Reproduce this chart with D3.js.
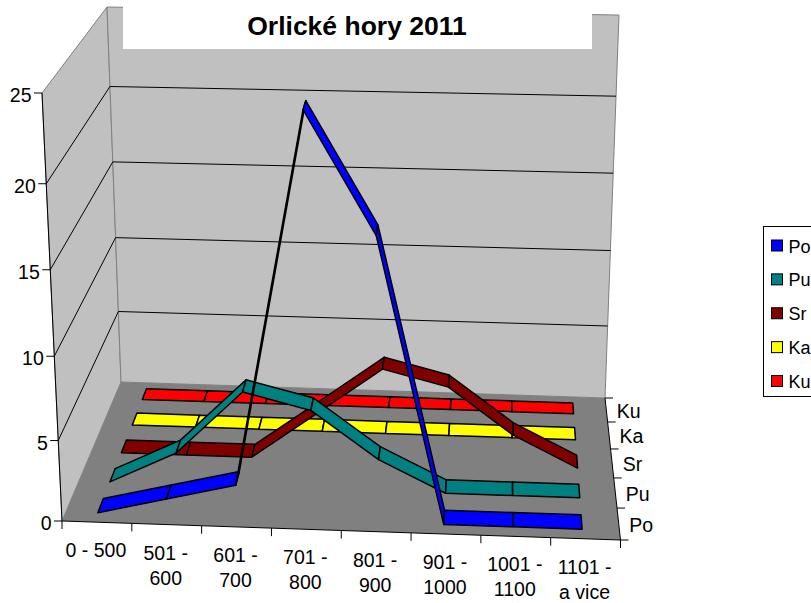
<!DOCTYPE html>
<html>
<head>
<meta charset="utf-8">
<script src="https://cdn.jsdelivr.net/npm/d3@7"></script>
<style>
    html, body { margin: 0; padding: 0; background: #fff; overflow: hidden; }
    text { font-family: "Liberation Sans", Arial, sans-serif; fill: #000; }
</style>
</head>
<body>
<div id="chart"></div>
<script>
// Chart data
const title = "Orlické hory 2011";
const categories = [["0 - 500"], ["501 -", "600"], ["601 -", "700"], ["701 -", "800"], ["801 -", "900"], ["901 -", "1000"], ["1001 -", "1100"], ["1101 -", "a vice"]];
const seriesNames = ["Po", "Pu", "Sr", "Ka", "Ku"];
const seriesColors = ["#0000ff", "#008080", "#800000", "#ffff00", "#ff0000"];
const po = [0, 1, 2, 24, 17, 0, 0, 0];
const pu = [0, 2, 6, 5, 2, 0, 0, 0];
const sr = [0, 0, 0, 3, 6, 5, 2, 0];
const ka = [0, 0, 0, 0, 0, 0, 0, 0];
const ku = [0, 0, 0, 0, 0, 0, 0, 0];
const seriesValues = [po, pu, sr, ka, ku];
const valueTicks = [0, 5, 10, 15, 20, 25];

const width = 811;
const height = 603;
const fontSize = 19.5;

// Scales for the three axes, all into 0..1 of the box.
// Value and depth are foreshortened, so they keep the measured tick positions.
const xScale = d3.scaleLinear().domain([0, categories.length]).range([0, 1]);
const yScale = d3.scaleLinear().domain(valueTicks).range([0, 0.188, 0.385, 0.587, 0.788, 1]);
const zScale = d3.scaleLinear().domain([0, 1, 2, 3, 4, 5]).range([0, 0.225, 0.437, 0.641, 0.831, 1]);

// Screen corners of the box: front/back, left/right, bottom/top
const box = {
    flb: [62, 521], frb: [620.5, 540], blb: [121, 382], brb: [605, 398],
    flt: [42, 93], frt: [641, 103], blt: [107, 7], brt: [619, 15]
};

const mix = (a, b, t) => [a[0] + (b[0] - a[0]) * t, a[1] + (b[1] - a[1]) * t];

// x in categories, v in value units, z in series
function project(x, v, z) {
    const u = xScale(x), h = yScale(v), d = zScale(z);
    const front = mix(mix(box.flb, box.frb, u), mix(box.flt, box.frt, u), h);
    const back = mix(mix(box.blb, box.brb, u), mix(box.blt, box.brt, u), h);
    return mix(front, back, d);
}

const svg = d3.select("#chart").append("svg")
    .attr("width", width)
    .attr("height", height)
    .style("display", "block");

const poly = d3.line().curve(d3.curveLinearClosed);
const n = categories.length;
const depth = seriesNames.length;

// Walls and floor
svg.append("path")
    .attr("d", poly([project(0, 0, 0), project(0, 25, 0), project(0, 25, depth), project(0, 0, depth)]))
    .attr("fill", "#c0c0c0").attr("stroke", "#808080").attr("stroke-width", 1);
svg.append("path")
    .attr("d", poly([project(0, 0, depth), project(0, 25, depth), project(n, 25, depth), project(n, 0, depth)]))
    .attr("fill", "#c0c0c0").attr("stroke", "#808080").attr("stroke-width", 1);
svg.append("path")
    .attr("d", poly([project(0, 0, 0), project(n, 0, 0), project(n, 0, depth), project(0, 0, depth)]))
    .attr("fill", "#808080");

// Gridlines on left and back wall
const gridTicks = valueTicks.filter(d => d > 0 && d < 25);
gridTicks.forEach(function (v) {
    svg.append("path").attr("d", d3.line()([project(0, v, 0), project(0, v, depth), project(n, v, depth)]))
        .attr("fill", "none").attr("stroke", "#000").attr("stroke-width", 1);
});

// Title sits on a white block over the wall
svg.append("rect").attr("x", 123).attr("y", 0).attr("width", 469).attr("height", 49).attr("fill", "#fff");
svg.append("text").attr("x", 357).attr("y", 35)
    .attr("text-anchor", "middle").attr("font-size", 26.5).attr("font-weight", "bold")
    .text(title);

// Axis lines
const axisLine = d3.line();
svg.append("path").attr("d", axisLine([project(0, 25, 0), project(0, 0, 0), project(n, 0, 0), project(n, 0, depth)]))
    .attr("fill", "none").attr("stroke", "#000").attr("stroke-width", 1);

// Value axis
valueTicks.forEach(function (v) {
    const p = project(0, v, 0);
    svg.append("line").attr("x1", p[0] - 8).attr("y1", p[1]).attr("x2", p[0]).attr("y2", p[1]).attr("stroke", "#000");
    svg.append("text").attr("x", p[0] - 10.5).attr("y", p[1] + 9)
        .attr("text-anchor", "end").attr("font-size", fontSize).text(v);
});

// Category axis
d3.range(n + 1).forEach(function (i) {
    const p = project(i, 0, 0);
    svg.append("line").attr("x1", p[0]).attr("y1", p[1]).attr("x2", p[0]).attr("y2", p[1] + 8).attr("stroke", "#000");
});
categories.forEach(function (lines, i) {
    const p = project(i + 0.5, 0, 0);
    lines.forEach(function (line, j) {
        svg.append("text").attr("x", p[0] - 1).attr("y", p[1] + 35 + j * 25)
            .attr("text-anchor", "middle").attr("font-size", fontSize).text(line);
    });
});

// Series axis
d3.range(depth + 1).forEach(function (i) {
    const p = project(n, 0, i);
    svg.append("line").attr("x1", p[0]).attr("y1", p[1]).attr("x2", p[0] + 8).attr("y2", p[1]).attr("stroke", "#000");
});
seriesNames.forEach(function (name, i) {
    const p = project(n, 0, i + 0.5);
    svg.append("text").attr("x", p[0] + 10.5).attr("y", p[1] + 8).attr("font-size", fontSize).text(name);
});

// Ribbons, back series first
const zNear = 0.3, zFar = 0.75;
const xOffset = 0.46;
d3.range(depth - 1, -1, -1).forEach(function (s) {
    const values = seriesValues[s];
    const g = svg.append("g");
    d3.range(n - 1).forEach(function (i) {
        g.append("path")
            .attr("d", poly([
                project(i + xOffset, values[i], s + zNear),
                project(i + 1 + xOffset, values[i + 1], s + zNear),
                project(i + 1 + xOffset, values[i + 1], s + zFar),
                project(i + xOffset, values[i], s + zFar)
            ]))
            .attr("fill", seriesColors[s])
            .attr("stroke", "#000")
            .attr("stroke-width", 1.5)
            .attr("stroke-linejoin", "round");
    });
});

// Legend, runs off the right side of the picture like the original
const legendX = 763.5;
const legendTop = 226.5;
svg.append("rect").attr("x", legendX).attr("y", legendTop).attr("width", 70).attr("height", 170)
    .attr("fill", "#fff").attr("stroke", "#000").attr("stroke-width", 1);
const legendY = d3.scaleLinear().domain([0, seriesNames.length - 1]).range([245.5, 381]);
seriesNames.forEach(function (name, i) {
    svg.append("rect").attr("x", 771.5).attr("y", legendY(i) - 5.5).attr("width", 11).attr("height", 11)
        .attr("fill", seriesColors[i]).attr("stroke", "#000").attr("stroke-width", 1);
    svg.append("text").attr("x", 788.5).attr("y", legendY(i) + 7).attr("font-size", 18).text(name);
});
</script>
</body>
</html>
